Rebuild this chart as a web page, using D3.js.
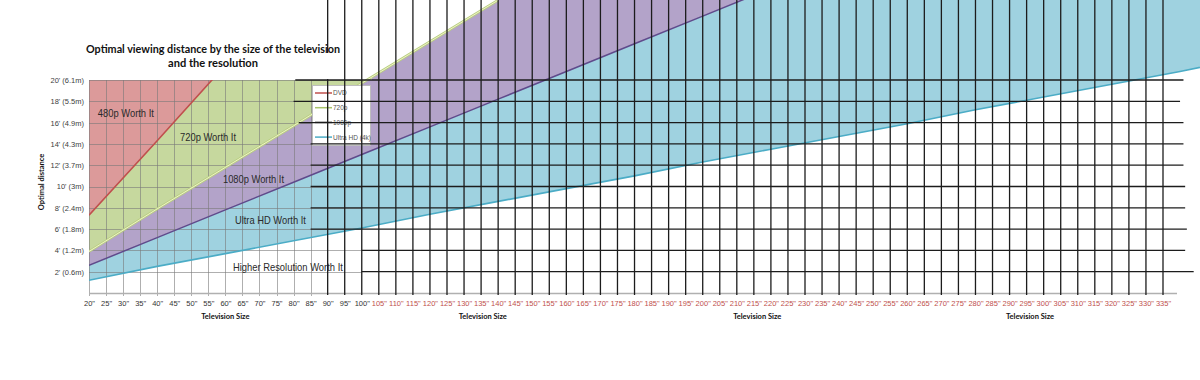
<!DOCTYPE html>
<html><head><meta charset="utf-8">
<script src="https://cdn.jsdelivr.net/npm/d3@7"></script>
<style>body{margin:0;background:#fff}svg{display:block}</style>
</head><body>
<svg id="c" width="1200" height="380"></svg>
<script>
// ---- data ----
const sizes      = [20,40,60,80,100,120,140,160,180,200,220,240,260,280,300,320,340,360];
const dvd        = [7.3,14.3,21.4,null,null,null,null,null,null,null,null,null,null,null,null,null,null,null];
const hd720      = [3.9,7.9,11.8,15.7,19.7,23.6,27.5,null,null,null,null,null,null,null,null,null,null,null];
const hd1080     = [2.6,5.2,7.8,10.4,13.0,15.6,18.2,20.8,23.4,26.0,28.6,null,null,null,null,null,null,null];
const uhd4k      = [1.2,2.5,3.7,4.9,6.1,7.4,8.6,9.8,11.0,12.3,13.5,14.7,15.9,17.2,18.4,19.6,20.8,22.1];
const yTicks     = [2,4,6,8,10,12,14,16,18,20];
const yTickLabels= ["2' (0.6m)","4' (1.2m)","6' (1.8m)","8' (2.4m)","10' (3m)","12' (3.7m)","14' (4.3m)","16' (4.9m)","18' (5.5m)","20' (6.1m)"];
const xTicks     = [20,25,30,35,40,45,50,55,60,65,70,75,80,85,90,95,100,105,110,115,120,125,130,135,140,145,150,155,160,165,170,175,180,185,190,195,200,205,210,215,220,225,230,235,240,245,250,255,260,265,270,275,280,285,290,295,300,305,310,315,320,325,330,335];
const grayV      = [20,25,30,35,40,45,50,55,60,65,70,75,80,85];
const blackV     = [90,95,100,105,110,115,120,125,130,135,140,145,150,155,160,165,170,175,180,185,190,195,200,205,210,215,220,225,230,235,240,245,250,255,260,265,270,275,280,285,290,295,300,305,310,315,320,325,330,335];
const blackHRows = [20,18,16,14,12,10,8,6,4,2];
const blackHFrom = [80.5,80,81.5,85,85,85,85,85,100,100];
const blackHTo   = [341,340,341,341,341,341.5,341.5,342,341.5,344];
const xTitlesAt  = [60,135.5,216,296];
const seriesNames= ["DVD","720p","1080p","Ultra HD (4k)"];
const regionText = ["480p Worth It","720p Worth It","1080p Worth It","Ultra HD Worth It","Higher Resolution Worth It"];
const regionX    = [22.6,46.7,59.3,62.8,62.2];
const regionY    = [16.5,14.3,10.3,6.5,2.07];
const regionW    = [56,56,61,71,110];

// ---- styles ----
const col = {red:"#dc9a9a", green:"#c6d89e", purple:"#b3a3c9", blue:"#9fd2e0",
  lDvd:"#c0504d", l720:"#b9cf80", l1080:"#5f4a8b", l4k:"#4bacc6"};

const svg = d3.select("#c");
const x = d3.scaleLinear().domain([20,335]).range([89,1163]);
const y = d3.scaleLinear().domain([0,20]).range([293,80]);
const TOP = 30;
const rows = sizes.map((s,i)=>({s, dvd:dvd[i], a:hd720[i], b:hd1080[i], c:uhd4k[i]}));

const defs = svg.append("defs");
const xEdge = x(103);
defs.append("clipPath").attr("id","left").append("rect")
  .attr("x",x(20)).attr("y",y(20)).attr("width",xEdge-x(20)).attr("height",y(0)-y(20));
const cu = defs.append("clipPath").attr("id","union");
cu.append("rect").attr("x",x(20)).attr("y",y(20)).attr("width",xEdge-x(20)).attr("height",y(0)-y(20));
cu.append("rect").attr("x",xEdge).attr("y",0).attr("width",1200-xEdge).attr("height",y(0));
const cl = defs.append("clipPath").attr("id","lines");
cl.append("rect").attr("x",x(20)).attr("y",y(20)).attr("width",xEdge-x(20)).attr("height",y(0)-y(20));
cl.append("rect").attr("x",337).attr("y",0).attr("width",1200-337).attr("height",y(0));

// areas
const gA = svg.append("g");
gA.append("path").datum(rows.filter(d=>d.a!=null)).attr("clip-path","url(#left)")
  .attr("fill",col.green)
  .attr("d",d3.area().x(d=>x(d.s)).y0(d=>y(d.a)).y1(y(20)));
gA.append("path").datum(rows.filter(d=>d.dvd!=null)).attr("clip-path","url(#left)")
  .attr("fill",col.red)
  .attr("d",d3.area().x(d=>x(d.s)).y0(d=>y(d.dvd)).y1(y(20)));
gA.append("path").datum(rows.filter(d=>d.b!=null)).attr("clip-path","url(#union)")
  .attr("fill",col.purple)
  .attr("d",d3.area().x(d=>x(d.s)).y0(d=>y(d.b)).y1(d=>y(d.a==null?TOP:d.a)));
gA.append("path").datum(rows).attr("clip-path","url(#union)")
  .attr("fill",col.blue)
  .attr("d",d3.area().x(d=>x(d.s)).y0(d=>y(d.c)).y1(d=>y(d.b==null?TOP:d.b)));

// gray grid (left chart)
const gG = svg.append("g").attr("stroke","#7a7a7a").attr("stroke-opacity",0.6).attr("stroke-width",1);
gG.selectAll("line.v").data(grayV).join("line")
  .attr("x1",d=>Math.round(x(d))+0.5).attr("x2",d=>Math.round(x(d))+0.5)
  .attr("y1",y(20)).attr("y2",y(0)+3);
gG.selectAll("line.h").data(yTicks).join("line")
  .attr("x1",x(20)).attr("x2",x(100))
  .attr("y1",d=>Math.round(y(d))+0.5).attr("y2",d=>Math.round(y(d))+0.5);
// axis base line
svg.append("line").attr("x1",x(20)).attr("x2",1177).attr("y1",y(0)+0.5).attr("y2",y(0)+0.5)
  .attr("stroke","#b0b0b0").attr("stroke-width",1.5);

// series lines
const line = key => d3.line().defined(d=>d[key]!=null).x(d=>x(d.s)).y(d=>y(d[key]));
const gL = svg.append("g").attr("fill","none");
gL.append("path").datum(rows).attr("clip-path","url(#left)").attr("stroke",col.lDvd).attr("stroke-width",1.6).attr("d",line("dvd"));
gL.append("path").datum(rows).attr("clip-path","url(#lines)").attr("stroke",col.l720).attr("stroke-width",2.6).attr("d",line("a"));
gL.append("path").datum(rows).attr("clip-path","url(#lines)").attr("stroke","#eef2c8").attr("stroke-width",1).attr("d",line("a"));
gL.append("path").datum(rows).attr("clip-path","url(#lines)").attr("stroke",col.l1080).attr("stroke-width",1.5).attr("d",line("b"));
gL.append("path").datum(rows).attr("clip-path","url(#lines)").attr("stroke",col.l4k).attr("stroke-width",1.6).attr("d",line("c"));

// region labels
svg.append("g").selectAll("text").data(regionText).join("text")
  .attr("x",(d,i)=>x(regionX[i])).attr("y",(d,i)=>y(regionY[i]))
  .attr("textLength",(d,i)=>regionW[i]).attr("lengthAdjust","spacingAndGlyphs")
  .attr("font-family","Liberation Sans, Arial, sans-serif").attr("font-size",11)
  .attr("fill","#2a2a2a").text(d=>d);

// legend
const lg = svg.append("g");
lg.append("rect").attr("x",312.5).attr("y",85.5).attr("width",58).attr("height",60)
  .attr("fill","#fff").attr("stroke","#bdbdbd");
const lgCols = [col.lDvd,"#a9c46a","#3a3a3a",col.l4k];
seriesNames.forEach((n,i)=>{
  const yy = 93 + i*14.7;
  lg.append("line").attr("x1",315).attr("x2",332).attr("y1",yy).attr("y2",yy)
    .attr("stroke",lgCols[i]).attr("stroke-width",1.5);
  lg.append("text").attr("x",333).attr("y",yy+2.4).attr("font-family","Liberation Sans, Arial, sans-serif")
    .attr("font-size",6.5).attr("fill","#555").text(n);
});

// black grid overlay
const gB = svg.append("g").attr("stroke","#1c1c1c").attr("stroke-width",1.3);
gB.selectAll("line.v").data(blackV).join("line")
  .attr("x1",d=>x(d)).attr("x2",d=>x(d)).attr("y1",0).attr("y2",y(0)+2);
gB.selectAll("line.h").data(blackHRows).join("line")
  .attr("x1",(d,i)=>x(blackHFrom[i])).attr("x2",(d,i)=>x(blackHTo[i]))
  .attr("y1",d=>y(d)).attr("y2",d=>y(d));

// title (white backing from the pasted chart)
svg.append("rect").attr("x",0).attr("y",53).attr("width",337).attr("height",y(20)-53-1).attr("fill","#fff");
const tt = svg.append("g").attr("font-family","Lato, 'Open Sans', sans-serif").attr("font-weight","bold")
  .attr("font-size",10.5).attr("fill","#111").attr("text-anchor","middle");
tt.append("text").attr("x",213).attr("y",53).attr("textLength",254).attr("lengthAdjust","spacingAndGlyphs")
  .text("Optimal viewing distance by the size of the television");
tt.append("text").attr("x",213).attr("y",66.5).attr("textLength",90).attr("lengthAdjust","spacingAndGlyphs")
  .text("and the resolution");

// y axis
const ya = svg.append("g").attr("transform",`translate(${x(20)},0)`)
  .call(d3.axisLeft(y).tickValues(yTicks).tickFormat((d,i)=>yTickLabels[i]).tickSize(0).tickPadding(5));
ya.select(".domain").remove();
ya.selectAll("text").attr("font-family","Liberation Sans, Arial, sans-serif").attr("font-size",7.5).attr("fill","#404040");
svg.append("text").attr("transform",`translate(44,${182}) rotate(-90)`).attr("text-anchor","middle")
  .attr("font-family","Lato, 'Open Sans', sans-serif").attr("font-weight","bold").attr("font-size",7.5)
  .attr("fill","#111").text("Optimal distance");

// x axis
const xa = svg.append("g").attr("transform",`translate(0,${y(0)})`)
  .call(d3.axisBottom(x).tickValues(xTicks).tickFormat(d=>d+"\"").tickSize(0).tickPadding(8));
xa.select(".domain").remove();
xa.selectAll("text").attr("font-family","Liberation Sans, Arial, sans-serif").attr("font-size",7.5)
  .attr("fill",d=>d>100?"#c0504d":"#333");
svg.append("g").selectAll("text").data(xTitlesAt).join("text")
  .attr("x",d=>x(d)).attr("y",319).attr("text-anchor","middle")
  .attr("font-family","Lato, 'Open Sans', sans-serif").attr("font-weight","bold").attr("font-size",7.5)
  .attr("fill","#111").text("Television Size");
</script>
</body></html>
